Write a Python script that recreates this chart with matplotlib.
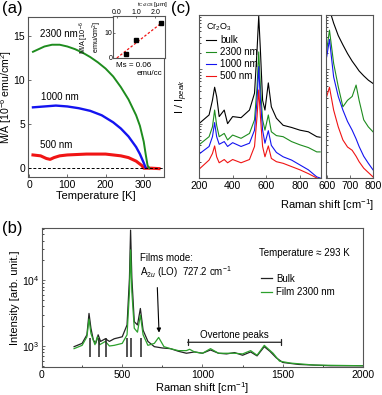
import numpy as np
import matplotlib.pyplot as plt

plt.rcParams['font.family'] = ['Liberation Sans', 'DejaVu Sans']
plt.rcParams['mathtext.fontset'] = 'custom'
plt.rcParams['mathtext.rm'] = 'Liberation Sans'
plt.rcParams['mathtext.it'] = 'Liberation Sans:italic'
plt.rcParams['font.size'] = 7.5
plt.rcParams['xtick.direction'] = 'in'
plt.rcParams['ytick.direction'] = 'in'

GREEN = '#1e8c1e'
BLUE = '#1414f0'
RED = '#f01414'
FRAME = '#555555'

# ---- (a) M/A vs temperature ----
T_2300 = [10, 20, 30, 40, 50, 60, 70, 80, 90, 100, 120, 140, 160, 180, 200, 220,
          240, 260, 280, 290, 300, 305, 310, 315]
M_2300 = [13.2, 13.4, 13.6, 13.8, 13.9, 14.0, 14.0, 14.0, 13.9, 13.8, 13.5, 13.1,
          12.6, 12.0, 11.3, 10.4, 9.2, 7.8, 6.0, 4.8, 3.0, 1.6, 0.3, 0.0]
T_1000 = [10, 40, 70, 100, 130, 160, 190, 220, 240, 260, 280, 290, 300, 305]
M_1000 = [6.9, 7.0, 7.1, 7.0, 6.8, 6.5, 6.0, 5.2, 4.5, 3.6, 2.4, 1.6, 0.6, 0.05]
T_500 = [10, 30, 45, 55, 65, 80, 100, 150, 200, 240, 260, 280, 295, 300, 320, 340]
M_500 = [1.5, 1.4, 1.1, 1.0, 1.2, 1.4, 1.5, 1.6, 1.6, 1.4, 1.2, 0.8, 0.3, 0.0, 0.0, -0.05]

t_um = [0.5, 1.0, 2.3]
MA_t = [1.6, 7.0, 14.0]
Ms_slope = 6.0

# ---- (c) normalised spectra (log10 of I/Ipeak) ----
wn_c = [200, 260, 280, 293, 305, 320, 350, 370, 400, 450, 500, 530, 545, 555, 565,
        578, 592, 612, 630, 660, 700, 750, 800, 850, 900, 920]
c_bulk = [-2.0, -1.84, -1.57, -1.33, -1.5, -1.87, -1.75, -2.0, -1.87, -1.89, -1.75,
          -1.44, -0.65, -0.02, -0.65, -1.57, -1.75, -1.25, -1.69, -1.9, -2.03, -2.07,
          -2.12, -2.15, -2.24, -2.25]
c_2300 = [-2.39, -2.24, -2.06, -1.75, -2.03, -2.24, -2.18, -2.3, -2.21, -2.27, -2.18,
          -1.93, -1.32, -0.68, -1.32, -1.93, -2.12, -1.84, -2.15, -2.22, -2.24, -2.33,
          -2.39, -2.44, -2.52, -2.52]
c_1000 = [-2.56, -2.42, -2.24, -1.98, -2.24, -2.38, -2.33, -2.42, -2.35, -2.42, -2.36,
          -2.12, -1.57, -0.95, -1.57, -2.12, -2.36, -2.13, -2.4, -2.53, -2.61, -2.67,
          -2.76, -2.85, -2.98, -3.0]
c_500 = [-2.84, -2.67, -2.55, -2.41, -2.61, -2.72, -2.66, -2.72, -2.66, -2.72, -2.66,
         -2.42, -1.87, -1.38, -1.87, -2.42, -2.61, -2.41, -2.64, -2.7, -2.73, -2.79,
         -2.85, -2.92, -3.0, -3.04]

wn_z = [600, 612, 630, 650, 670, 690, 710, 727, 740, 760, 780, 800]
z_bulk = [0.3, 0.1, -0.15, -0.38, -0.55, -0.71, -0.85, -0.95, -1.03, -1.12, -1.2, -1.26]
z_2300 = [-0.65, -0.28, -0.89, -1.32, -1.69, -1.57, -1.5, -1.29, -1.57, -1.93, -2.06, -2.15]
z_1000 = [-0.77, -0.45, -1.14, -1.5, -1.75, -1.96, -2.12, -2.28, -2.42, -2.6, -2.73, -2.85]
z_500 = [-1.5, -1.33, -1.75, -2.06, -2.3, -2.43, -2.49, -2.6, -2.7, -2.82, -2.9, -2.98]

# ---- (b) raw spectra (log10 intensity) ----
wn_b_bulk = [200, 250, 280, 293, 305, 320, 335, 350, 365, 395, 420, 450, 500, 530, 545,
             552, 560, 575, 595, 613, 630, 660, 700, 750, 800, 850, 900, 950, 1000, 1050,
             1100, 1150, 1200, 1250, 1300, 1340, 1385, 1420, 1460, 1500, 1600, 1800, 2000]
b_bulk = [2.99, 3.04, 3.17, 3.495, 3.27, 3.09, 3.04, 3.17, 3.07, 3.11, 3.07, 3.11, 3.14,
          3.32, 4.03, 4.76, 4.03, 3.37, 3.32, 3.57, 3.24, 3.07, 2.99, 2.97, 2.96, 2.92,
          2.89, 2.91, 2.89, 2.94, 2.89, 2.88, 2.9, 2.86, 2.91, 2.85, 2.99, 2.92, 2.82,
          2.75, 2.72, 2.70, 2.70]
wn_b_film = [200, 250, 280, 293, 305, 330, 345, 360, 395, 420, 450, 500, 530, 545, 552,
             560, 575, 595, 613, 630, 660, 700, 727, 760, 800, 850, 900, 920, 950, 1000,
             1050, 1100, 1200, 1250, 1300, 1340, 1385, 1440, 1480, 1550, 1700, 2000]
b_film = [2.96, 3.01, 3.14, 3.41, 3.19, 3.02, 3.14, 3.02, 3.07, 3.0, 3.01, 3.04, 3.17,
          3.82, 4.46, 3.82, 3.27, 3.21, 3.47, 3.17, 3.01, 3.04, 3.13, 2.99, 2.96, 2.93,
          2.93, 2.95, 2.91, 2.89, 2.96, 2.89, 2.89, 2.88, 2.93, 2.86, 3.01, 2.89, 2.77,
          2.74, 2.71, 2.70]
mode_pos = [299, 353, 398, 531, 552, 618]

fig = plt.figure(figsize=(3.82, 3.95), dpi=100)


def frame(ax):
    for s in ax.spines.values():
        s.set_color(FRAME)
        s.set_linewidth(0.8)
    ax.tick_params(colors=FRAME, labelcolor='black', labelsize=7.5, length=2.5,
                   width=0.6, pad=2)
    ax.tick_params(which='minor', length=1.5, width=0.5)


# (a)
ax_a = fig.add_axes([0.0733, 0.5519, 0.356, 0.4063])
ax_a.plot(T_500, M_500, color=RED, lw=2.2)
ax_a.plot(T_1000, M_1000, color=BLUE, lw=1.7)
ax_a.plot(T_2300, M_2300, color=GREEN, lw=1.4)
ax_a.axhline(0, color='black', lw=0.7, ls=(0, (3, 2)))
ax_a.set_xlim(-3, 353)
ax_a.set_ylim(-1, 17.2)
ax_a.set_xticks([0, 100, 200, 300])
ax_a.set_yticks([0, 5, 10, 15])
frame(ax_a)
ax_a.set_xlabel('Temperature [K]', fontsize=8, labelpad=1)
ax_a.set_ylabel('M/A [10$^{-6}$ emu/cm$^2$]', fontsize=7.6)
ax_a.yaxis.set_label_coords(-0.1, 0.5)
ax_a.text(77, 15.2, '2300 nm', ha='center', va='center', fontsize=7)
ax_a.text(80, 8.1, '1000 nm', ha='center', va='center', fontsize=7)
ax_a.text(72, 2.6, '500 nm', ha='center', va='center', fontsize=7)

ins = fig.add_axes([0.2958, 0.8532, 0.1361, 0.1051])
ins.plot([0, 2.45], [0, 2.45 * Ms_slope], color=RED, lw=0.9, ls=(0, (2, 1.5)))
ins.plot(t_um, MA_t, 's', color='black', ms=3)
ins.set_xlim(-0.2, 2.5)
ins.set_ylim(0, 16.5)
ins.set_xticks([0, 1, 2])
ins.set_xticklabels(['0.0', '1.0', '2.0'])
ins.set_yticks([0, 10])
ins.xaxis.tick_top()
frame(ins)
ins.tick_params(labelsize=5.0, length=1.5, pad=0.2)
ins.set_ylabel('M/A [10$^{-6}$\nemu/cm$^2$]', fontsize=5.2, labelpad=0.5, linespacing=1.0)
fig.text(0.4, 1.0, 't$_{Cr2O3}$ [μm]', fontsize=4.6, ha='center', va='top')
ins.text(0.05, -0.1, 'Ms = 0.06', transform=ins.transAxes, fontsize=5.8, va='top')
ins.text(0.95, -0.3, 'emu/cc', transform=ins.transAxes, fontsize=5.8, va='top', ha='right')

# (c)
ax_c = fig.add_axes([0.5209, 0.5494, 0.3194, 0.4127])
ax_c.plot(wn_c, 10 ** np.array(c_bulk), color='black', lw=0.8, label='bulk')
ax_c.plot(wn_c, 10 ** np.array(c_2300), color=GREEN, lw=0.8, label='2300 nm')
ax_c.plot(wn_c, 10 ** np.array(c_1000), color=BLUE, lw=0.8, label='1000 nm')
ax_c.plot(wn_c, 10 ** np.array(c_500), color=RED, lw=0.8, label='500 nm')
ax_c.set_yscale('log')
ax_c.set_ylim(1e-3, 1.0)
ax_c.set_xlim(200, 925)
ax_c.set_xticks([200, 400, 600, 800])
ax_c.set_yticklabels([], minor=True)
ax_c.set_yticklabels([])
ax_c.set_ylabel('I / I$_{peak}$', fontsize=8, labelpad=3)
leg = ax_c.legend(loc='upper left', title='Cr$_2$O$_3$', fontsize=7, title_fontsize=6.5,
                  frameon=False, handlelength=1.0, handletextpad=0.5, labelspacing=0.2,
                  borderaxespad=0.3)
leg._legend_box.align = 'left'
frame(ax_c)
ax_c.text(1.05, -0.12, 'Raman shift [cm$^{-1}$]', transform=ax_c.transAxes,
          ha='center', va='top', fontsize=8)

ax_z = fig.add_axes([0.8534, 0.5494, 0.123, 0.4127])
ax_z.plot(wn_z, 10 ** np.array(z_bulk), color='black', lw=0.8)
ax_z.plot(wn_z, 10 ** np.array(z_2300), color=GREEN, lw=0.8)
ax_z.plot(wn_z, 10 ** np.array(z_1000), color=BLUE, lw=0.8)
ax_z.plot(wn_z, 10 ** np.array(z_500), color=RED, lw=0.8)
ax_z.set_yscale('log')
ax_z.set_ylim(1e-3, 1.0)
ax_z.set_xlim(597, 800)
ax_z.set_xticks([600, 700, 800])
ax_z.set_yticklabels([], minor=True)
ax_z.set_yticklabels([])
frame(ax_z)

# (b)
ax_b = fig.add_axes([0.1099, 0.0709, 0.8403, 0.3519])
ax_b.plot(wn_b_bulk, 10 ** np.array(b_bulk), color='#222222', lw=0.9, label='Bulk')
ax_b.plot(wn_b_film, 10 ** np.array(b_film), color='#2ca02c', lw=0.9, label='Film 2300 nm')
ax_b.vlines(mode_pos, 690, 1320, color='#222222', lw=1.1)
ax_b.set_yscale('log')
ax_b.set_ylim(480, 6.2e4)
ax_b.set_xlim(0, 2000)
ax_b.set_xticks([0, 500, 1000, 1500, 2000])
ax_b.set_xticks([250, 750, 1250, 1750], minor=True)
ax_b.set_yticks([1e3, 1e4])
frame(ax_b)
ax_b.set_xlabel('Raman shift [cm$^{-1}$]', fontsize=8, labelpad=0.5)
ax_b.set_ylabel('Intensity [arb. unit.]', fontsize=8, labelpad=1)
ax_b.text(610, 2.15e4, 'Films mode:', fontsize=7, va='center')
ax_b.text(610, 1.32e4, 'A$_{2u}$ (LO)  727.2 cm$^{-1}$', fontsize=7, va='center')
ax_b.annotate('', xy=(730, 1450), xytext=(718, 8500),
              arrowprops=dict(arrowstyle='-|>', color='black', lw=0.8,
                              mutation_scale=6))
ax_b.annotate('', xy=(890, 1140), xytext=(1506, 1140),
              arrowprops=dict(arrowstyle='|-|', color='#222222', lw=0.9,
                              mutation_scale=2))
ax_b.text(1198, 1480, 'Overtone peaks', ha='center', va='center', fontsize=7)
ax_b.text(1355, 2.6e4, 'Temperature ≈ 293 K', fontsize=7, va='center')
ax_b.legend(loc='upper left', bbox_to_anchor=(0.67, 0.70), fontsize=7, frameon=False,
            handlelength=1.1, handletextpad=0.5, labelspacing=0.35, borderaxespad=0)

fig.text(0.005, 0.997, '(a)', fontsize=12, va='top')
fig.text(0.448, 0.997, '(c)', fontsize=12, va='top')
fig.text(0.005, 0.44, '(b)', fontsize=12, va='top')

fig.savefig('out.png', dpi=100)
